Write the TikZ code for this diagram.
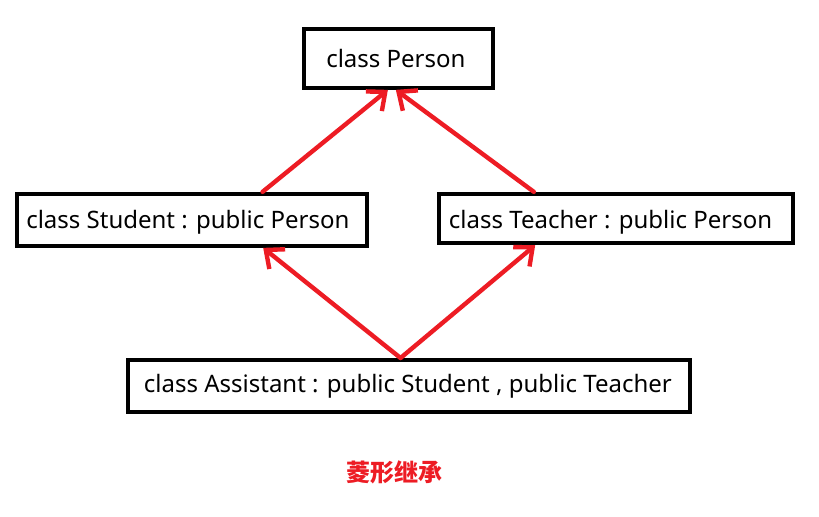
\documentclass[tikz,border=0pt]{standalone}
\usepackage{fontspec}
\setmainfont{Noto Sans}
\newfontfamily\cjk{Noto Sans CJK SC}
\usetikzlibrary{arrows.meta}
\definecolor{paintred}{RGB}{237,28,36}
\tikzstyle{arrow} = [line width=3.3pt, paintred, line cap=round, -{Straight Barb[length=11pt,width=19pt]}]
\tikzstyle{cls} = [rectangle, draw=black, line width=3pt, inner sep=0pt, text depth=4pt, font=\fontsize{18}{21}\selectfont]
\tikzstyle{caption} = [text=paintred, font=\cjk\bfseries\fontsize{18}{21}\selectfont]

\begin{document}
\begin{tikzpicture}[node distance=121pt]
		\useasboundingbox (0,0) rectangle (614.25pt,-387.75pt);
		\node (person) [cls, text height=17pt, minimum width=141.75pt, minimum height=44pt] at (298.9pt,-43.9pt) {\hspace*{-4pt}class Person};
		\node (student) [cls, text height=17pt, below of=person, xshift=-155pt, minimum width=262pt, minimum height=39pt] {\hspace*{-6pt}class Student : public Person};
		\node (teacher) [cls, text height=19pt, below of=person, xshift=163pt, yshift=1pt, minimum width=265.5pt, minimum height=37pt] {\hspace*{-8pt}class Teacher : public Person};
		\node (assistant) [cls, text height=14pt, below of=person, xshift=8pt, yshift=-124.6pt, minimum width=421.5pt, minimum height=39pt] {\hspace*{-2pt}class Assistant : public Student , public Teacher};
		\node (title) [caption, below of=assistant, xshift=-11pt, yshift=56.5pt] {菱形继承};
		\draw [arrow] ([xshift=53pt]student.north) -- ([xshift=-8pt]person.south);
		\draw [arrow] ([xshift=-61.5pt]teacher.north) -- ([xshift=-2pt]person.south);
		\draw [arrow] ([xshift=-6.5pt]assistant.north) -- ([xshift=53.5pt]student.south);
		\draw [arrow] ([xshift=-6.5pt]assistant.north) -- ([xshift=-60.5pt]teacher.south);
\end{tikzpicture}
\end{document}
